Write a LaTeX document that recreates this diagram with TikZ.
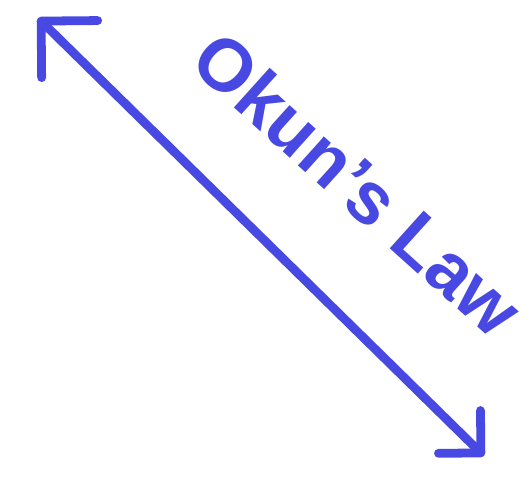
\documentclass[tikz,border=0pt]{standalone}
\usepackage{fontspec}
\setsansfont{Liberation Sans}
\usepackage{tikz}
\usetikzlibrary{arrows.meta,calc,positioning}

\definecolor{marker}{HTML}{4848E2}

\begin{document}
\begin{tikzpicture}[x=0.02cm,y=-0.02cm]
\useasboundingbox (0,0) rectangle (530,487);
% End points of the axis
\coordinate (tl) at (38,18);
\coordinate (br) at (484,456);

% Double-headed arrow
\draw[{Straight Barb[length=8mm,width=16mm,round]}-{Straight Barb[length=6mm,width=12mm,round]},
      line width=5pt,line cap=round,color=marker] (tl) -- (br);

% Label
\node[color=marker,font=\sffamily\bfseries\fontsize{42}{46}\selectfont,rotate=-42,inner sep=0pt]
  (lawlabel) at (358,184) {Okun's Law};
\end{tikzpicture}
\end{document}
